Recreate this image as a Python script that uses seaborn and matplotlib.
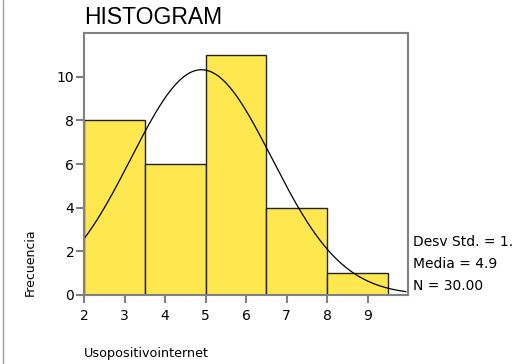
import numpy as np
import pandas as pd
import matplotlib
matplotlib.use("Agg")
import matplotlib.pyplot as plt
import seaborn as sns
from matplotlib.lines import Line2D

# bins and frequencies
bin_edges = [2.0, 3.5, 5.0, 6.5, 8.0, 9.5]
bin_mids = [2.75, 4.25, 5.75, 7.25, 8.75]
counts = [8, 6, 11, 4, 1]
mean_val = 4.9
std_val = 1.74
n_total = 30
x_ticks = [2, 3, 4, 5, 6, 7, 8, 9]
y_ticks = [0, 2, 4, 6, 8, 10]

df = pd.DataFrame({"Usopositivointernet": bin_mids, "w": counts})

sns.set_style("white")
plt.rcParams["font.family"] = ["DejaVu Sans"]
plt.rcParams["text.color"] = "black"

fig = plt.figure(figsize=(5.23, 3.64), dpi=100)
ax = fig.add_axes([84 / 523, 69 / 364, 324 / 523, 262 / 364])

sns.histplot(data=df, x="Usopositivointernet", weights="w", bins=bin_edges,
             color="#FFE84F", alpha=1, edgecolor="#222222", linewidth=1.0, ax=ax)

# normal curve scaled to counts
bw = bin_edges[1] - bin_edges[0]
xs = np.linspace(2, 9.95, 300)
ys = n_total * bw * np.exp(-0.5 * ((xs - mean_val) / std_val) ** 2) / (std_val * np.sqrt(2 * np.pi))
sns.lineplot(x=xs, y=ys, color="black", linewidth=0.9, ax=ax)

ax.set_xlim(2, 10.0)
ax.set_ylim(0, 12)
ax.set_xticks(x_ticks)
ax.set_yticks(y_ticks)
ax.tick_params(axis="both", bottom=True, left=True, direction="out", length=6, width=1.5,
               color="#808080", labelsize=10, labelcolor="black", pad=4)
ax.tick_params(axis="y", pad=1)
for s in ax.spines.values():
    s.set_color("#808080")
    s.set_linewidth(1.5)
    s.set_visible(True)
ax.set_xlabel("")
ax.set_ylabel("")

fig.text(84 / 523, 1 - 17 / 364, "HISTOGRAM", fontsize=16.5, ha="left", va="center",
         color="black", family=["Liberation Sans", "DejaVu Sans"])
fig.text(30 / 523, 1 - 296 / 364, "Frecuencia", fontsize=9, rotation=90,
         ha="center", va="bottom", color="black")
fig.text(84 / 523, 1 - 354 / 364, "Usopositivointernet", fontsize=9.2,
         ha="left", va="center", color="black")
for yy, txt in [(242, "Desv Std. = 1."), (264, "Media = 4.9"), (286, "N = 30.00")]:
    fig.text(413 / 523, 1 - yy / 364, txt, fontsize=10, ha="left", va="center", color="black")

fig.add_artist(Line2D([3 / 523, 3 / 523], [0, 1], color="#a0a0a0", linewidth=1.0,
                      transform=fig.transFigure))

fig.savefig("out.png", dpi=100)
